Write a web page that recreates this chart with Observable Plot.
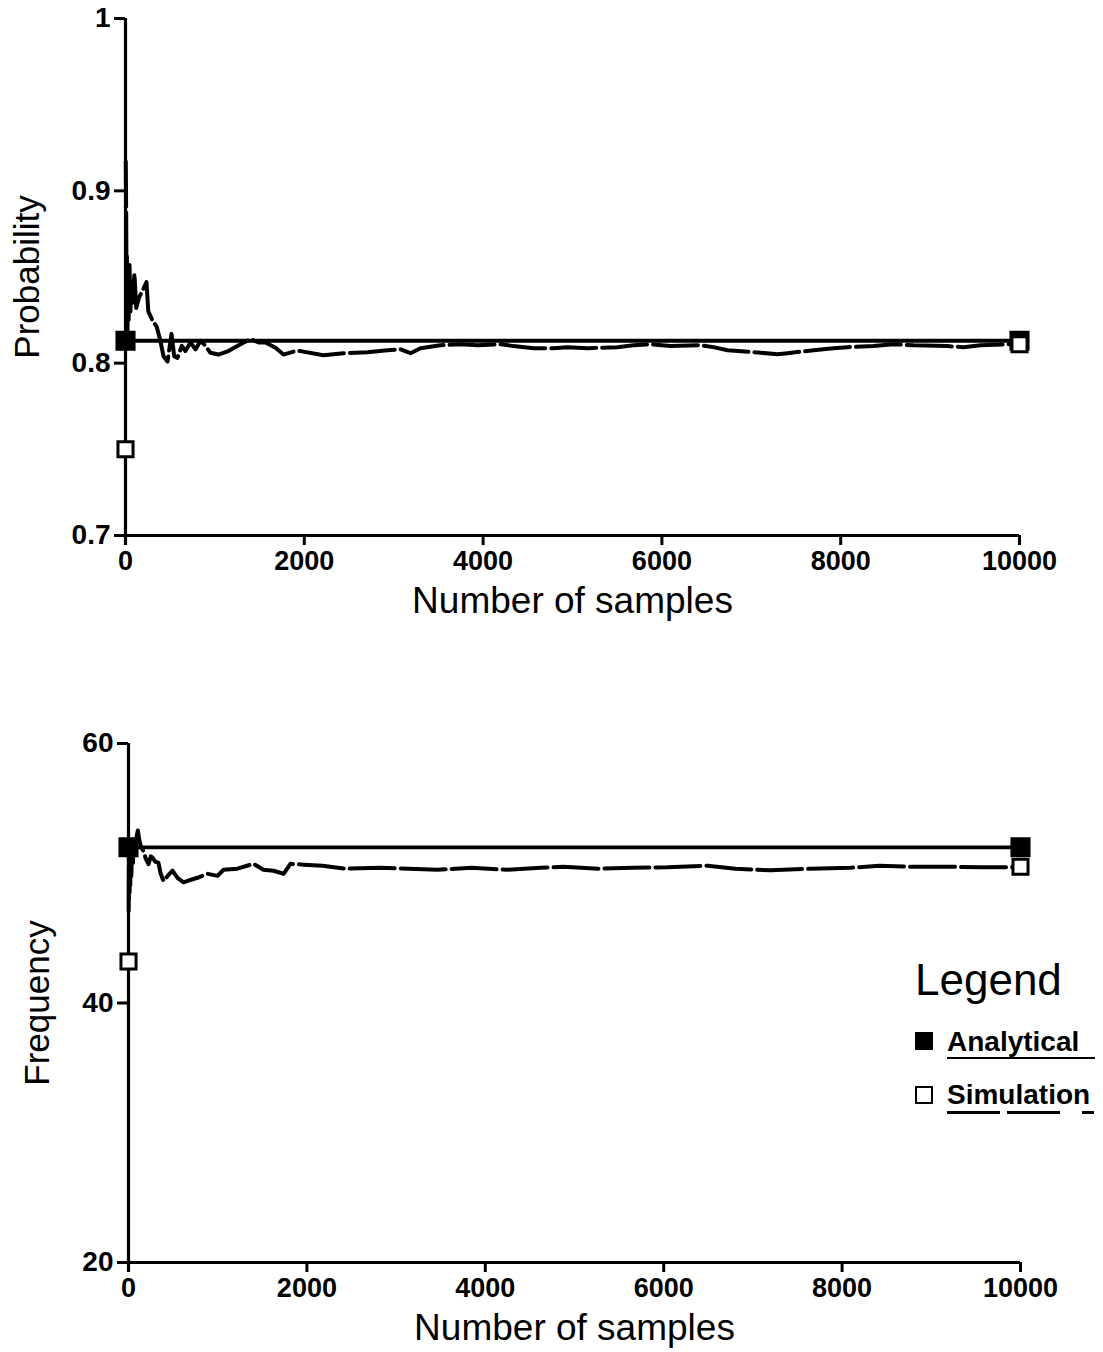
<!DOCTYPE html>
<html>
<head>
<meta charset="utf-8">
<script src="https://cdn.jsdelivr.net/npm/d3@7"></script>
<script src="https://cdn.jsdelivr.net/npm/@observablehq/plot@0.6"></script>
<style>
  html, body { margin: 0; padding: 0; background: #fff; }
  #page { position: relative; width: 1103px; height: 1352px; background: #fff; overflow: hidden; }
  #top { position: absolute; left: 0; top: 0; }
  #bottom { position: absolute; left: 0; top: 700px; }
  #legend { position: absolute; left: 913px; top: 954px; font-family: "Liberation Sans", Arial, sans-serif; color: #000; }
  #legend .title { font-size: 44px; line-height: 52px; margin-left: 2px; }
  #legend .row { position: relative; height: 53px; }
  #legend .sw { position: absolute; left: 2px; width: 18px; height: 18px; box-sizing: border-box; }
  #legend .lab { position: absolute; left: 34px; font-size: 28px; font-weight: bold; }
</style>
</head>
<body>
<div id="page">
  <div id="top"></div>
  <div id="bottom"></div>
  <div id="legend">
    <div class="title">Legend</div>
    <div class="row" style="margin-top:24px">
      <div class="sw" style="top:2px;background:#000;"></div>
      <div class="lab" style="top:-4px;">Analytical</div>
      <div style="position:absolute;left:34px;top:27px;width:148px;border-top:2.5px solid #000;"></div>
    </div>
    <div class="row">
      <div class="sw" style="top:3px;border:2.8px solid #000;background:#fff;"></div>
      <div class="lab" style="top:-4px;">Simulation</div>
      <div style="position:absolute;left:34px;top:28px;width:53px;border-top:3px solid #000;"></div>
      <div style="position:absolute;left:94px;top:28px;width:53px;border-top:3px solid #000;"></div>
      <div style="position:absolute;left:169px;top:28px;width:12px;border-top:3px solid #000;"></div>
    </div>
  </div>
</div>
<script>
// ---------- data ----------
const xTicks = [0, 2000, 4000, 6000, 8000, 10000];
const probTicks = [0.7, 0.8, 0.9, 1];
const freqTicks = [20, 40, 60];

const analyticalProb = 0.813;
const analyticalFreq = 52.0;
const simProbStart = 0.75, simProbEnd = 0.811;
const simFreqStart = 43.2, simFreqEnd = 50.5;

// simulation running estimate of probability (top)
const probN = [3, 8, 12, 16, 22, 28, 35, 45, 55, 65, 80, 100, 120, 150, 190, 235, 255, 300, 350, 390, 425, 470, 515, 545, 580, 630, 670, 727, 783, 840, 895, 950, 1040, 1150, 1286, 1400, 1490, 1566, 1678, 1767, 1900,
  1957, 2215, 2438, 2707, 2931, 3076, 3188, 3300, 3523, 3747, 3937, 4195, 4340, 4564, 4787, 4944, 5168, 5503, 5682, 5872, 6096, 6432,
  6577, 6734, 7025, 7293, 7405, 7696, 7919, 8076, 8367, 8591, 8814, 9195, 9374, 9564, 9899, 10000];
const probVal = [0.917, 0.885, 0.840, 0.862, 0.815, 0.855, 0.825, 0.857, 0.830, 0.848, 0.835, 0.852, 0.832, 0.838, 0.842, 0.847, 0.830, 0.825, 0.821, 0.813, 0.804, 0.801, 0.817, 0.804, 0.803, 0.810, 0.807, 0.812, 0.808, 0.813, 0.810, 0.806, 0.805, 0.807, 0.811, 0.814, 0.812, 0.812, 0.809, 0.805, 0.807,
  0.807, 0.8046, 0.8058, 0.8064, 0.8075, 0.8081, 0.8058, 0.8087, 0.8104, 0.811, 0.8104, 0.811, 0.8099, 0.8087, 0.8087, 0.8093, 0.8087, 0.8093, 0.8104, 0.811, 0.8099, 0.8104,
  0.8093, 0.8075, 0.8064, 0.8052, 0.8058, 0.8075, 0.8087, 0.8093, 0.8099, 0.811, 0.8104, 0.8099, 0.8093, 0.8104, 0.811, 0.811];

// simulation running estimate of frequency (bottom)
const freqN = [2, 4, 6, 9, 12, 16, 20, 26, 32, 40, 50, 60, 75, 90, 105, 120, 140, 168, 195, 224, 250, 269, 300, 336, 360, 392, 440, 493, 549, 617, 700, 774, 886, 998, 1065, 1222, 1401, 1513, 1626, 1738, 1816, 1962,
  2175, 2433, 2825, 3139, 3464, 3845, 4238, 4619, 4877, 5269, 5650, 6043, 6491, 6805, 7197, 7646, 8094, 8419, 8800, 9260, 9574, 9899, 10000];
const freqVal = [47.1, 52.5, 48.0, 52.0, 48.5, 51.8, 49.0, 52.3, 49.8, 52.0, 50.8, 52.5, 51.5, 52.8, 53.3, 52.6, 52.0, 51.7, 51.1, 50.7, 51.3, 51.2, 50.9, 50.8, 50.0, 49.4, 49.8, 50.2, 49.65, 49.3, 49.5, 49.65, 49.96, 49.8, 50.27, 50.35, 50.73, 50.27, 50.19, 49.96, 50.73, 50.66,
  50.58, 50.35, 50.42, 50.35, 50.27, 50.42, 50.27, 50.42, 50.5, 50.35, 50.42, 50.46, 50.58, 50.35, 50.23, 50.35, 50.42, 50.58, 50.5, 50.5, 50.46, 50.46, 50.5];

// ---------- build tables ----------
const simProb = probN.map((n, i) => ({n, v: probVal[i]}));
const simFreq = freqN.map((n, i) => ({n, v: freqVal[i]}));
const anaProbLine = [{n: 0, v: analyticalProb}, {n: 10000, v: analyticalProb}];
const anaFreqLine = [{n: 0, v: analyticalFreq}, {n: 10000, v: analyticalFreq}];
const simProbEnds = [{n: 0, v: simProbStart}, {n: 10000, v: simProbEnd}];
const simFreqEnds = [{n: 0, v: simFreqStart}, {n: 10000, v: simFreqEnd}];

const FONT = "Liberation Sans, Arial, sans-serif";

function panel({height, marginTop, marginBottom, marginLeft, marginRight, yDomain, yTicks, yLabel, yLabelDx, sim, ana, simEnds}) {
  return Plot.plot({
    width: 1103, height, marginTop, marginBottom, marginLeft, marginRight,
    x: {domain: [0, 10000]},
    y: {domain: yDomain},
    style: {fontFamily: FONT, fontSize: "27px", fontWeight: "bold", color: "#000", background: "#fff", overflow: "visible"},
    marks: [
      Plot.ruleY([yDomain[0]], {strokeWidth: 3.2, insetLeft: -8}),
      Plot.ruleX([0], {strokeWidth: 3.2, insetBottom: -10}),
      Plot.axisX({ticks: xTicks, tickFormat: d => String(d), tickSize: 10, tickPadding: 5, strokeWidth: 3, label: null, fontSize: 27, fontWeight: "bold"}),
      Plot.axisY({ticks: yTicks, tickFormat: d => String(d), tickSize: 11, tickPadding: 4, strokeWidth: 3, label: null, fontSize: 28, fontWeight: "bold"}),
      Plot.line(ana, {x: "n", y: "v", strokeWidth: 3.8, stroke: "#000"}),
      Plot.line(sim, {x: "n", y: "v", strokeWidth: 4, stroke: "#000", strokeDasharray: "45,6", strokeLinejoin: "round"}),
      Plot.dot(ana, {x: "n", y: "v", symbol: "square", r: 10.5, fill: "#000", stroke: "#000"}),
      Plot.dot(simEnds, {x: "n", y: "v", symbol: "square", r: 8.5, fill: "#fff", stroke: "#000", strokeWidth: 3}),
      Plot.text(["Number of samples"], {frameAnchor: "bottom", dy: 77, lineAnchor: "bottom", fontSize: 37, fontWeight: "normal"}),
      Plot.text([yLabel], {frameAnchor: "left", dx: yLabelDx, rotate: -90, textAnchor: "middle", fontSize: 35, fontWeight: "normal"})
    ]
  });
}

document.getElementById("top").appendChild(panel({
  height: 640, marginTop: 18, marginBottom: 105, marginLeft: 125, marginRight: 84,
  yDomain: [0.7, 1], yTicks: probTicks, yLabel: "Probability", yLabelDx: -98,
  sim: simProb, ana: anaProbLine, simEnds: simProbEnds
}));

document.getElementById("bottom").appendChild(panel({
  height: 652, marginTop: 43, marginBottom: 90, marginLeft: 128, marginRight: 83,
  yDomain: [20, 60], yTicks: freqTicks, yLabel: "Frequency", yLabelDx: -91,
  sim: simFreq, ana: anaFreqLine, simEnds: simFreqEnds
}));
</script>
</body>
</html>
